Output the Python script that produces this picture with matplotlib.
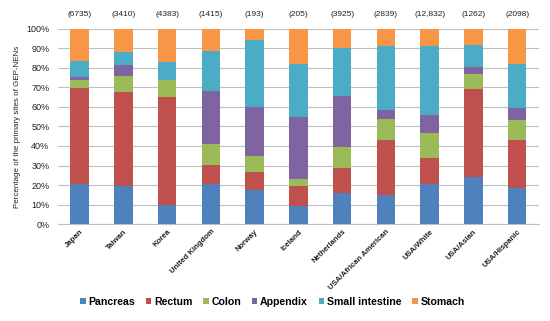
import matplotlib
matplotlib.use('agg')
import matplotlib.pyplot as plt
import matplotlib.ticker as plticker
import numpy as np

plt.rcParams['font.family'] = ['Liberation Sans', 'DejaVu Sans']

# data (percent of primary sites)
countries = ["Japan", "Taiwan", "Korea", "United Kingdom", "Norway", "Iceland",
             "Netherlands", "USA/African American", "USA/White", "USA/Asian", "USA/Hispanic"]
counts = ["(6735)", "(3410)", "(4383)", "(1415)", "(193)", "(205)",
          "(3925)", "(2839)", "(12,832)", "(1262)", "(2098)"]
sites = ["Pancreas", "Rectum", "Colon", "Appendix", "Small intestine", "Stomach"]
pancreas = [20.5, 19.6, 9.7, 20.7, 17.3, 9.4, 15.7, 15.0, 20.5, 24.3, 18.6]
rectum = [49.2, 47.9, 55.3, 9.4, 9.4, 9.9, 13.0, 28.2, 13.5, 45.1, 24.3]
colon = [4.1, 8.4, 8.8, 11.1, 8.0, 3.9, 10.8, 10.6, 12.8, 7.4, 10.6]
appendix = [1.6, 5.8, 0.0, 27.0, 25.1, 31.5, 26.3, 4.7, 9.1, 3.6, 6.1]
small_intestine = [8.3, 6.3, 9.4, 20.5, 34.4, 27.3, 24.2, 32.5, 35.5, 11.6, 22.6]
stomach = [16.3, 12.0, 16.8, 11.3, 5.8, 18.0, 10.0, 9.0, 8.6, 8.0, 17.8]

series = [pancreas, rectum, colon, appendix, small_intestine, stomach]
colors = ["#4F81BD", "#C0504D", "#9BBB59", "#8064A2", "#4BACC6", "#F79646"]

fig = plt.figure(figsize=(5.5, 3.21), dpi=100)
ax = fig.add_axes([0.105, 0.302, 0.875, 0.608])

x = np.arange(len(countries))
bottom = np.zeros(len(countries))
for name, vals, col in zip(sites, series, colors):
    ax.bar(x, vals, bottom=bottom, width=0.42, color=col, label=name, zorder=3)
    bottom += np.array(vals)

ax.set_xlim(-0.5, len(countries) - 0.5)
ax.set_ylim(0, 100)
ax.yaxis.set_major_locator(plticker.MultipleLocator(10))
ax.yaxis.set_major_formatter(plticker.FuncFormatter(lambda v, p: "%d%%" % v))
ax.grid(axis='y', color='#BFBFBF', linewidth=0.8, zorder=0)
for s in ['top', 'right', 'left']:
    ax.spines[s].set_visible(False)
ax.spines['bottom'].set_color('#BFBFBF')
ax.tick_params(axis='both', length=0, colors='#222222')
ax.tick_params(axis='y', pad=6, labelsize=6.5)
ax.tick_params(axis='x', pad=3)
ax.set_xticks(x)
ax.set_xticklabels(countries, rotation=45, ha='right', rotation_mode='anchor',
                   fontsize=5.6, fontweight='bold')
ax.set_ylabel("Percentage of the primary sites of GEP-NENs", fontsize=5.8, color='#222222')

for xi, c in zip(x, counts):
    ax.text(xi, 105.5, c, ha='center', va='bottom', fontsize=6, color='#222222')

fig.legend(*ax.get_legend_handles_labels(), loc='center', bbox_to_anchor=(0.495, 0.06),
           ncol=6, frameon=False, prop={'size': 7.6, 'weight': 'bold'},
           handlelength=0.55, handleheight=0.55, handletextpad=0.25, columnspacing=1.0)

plt.savefig("out.png", dpi=100)
plt.close(fig)
